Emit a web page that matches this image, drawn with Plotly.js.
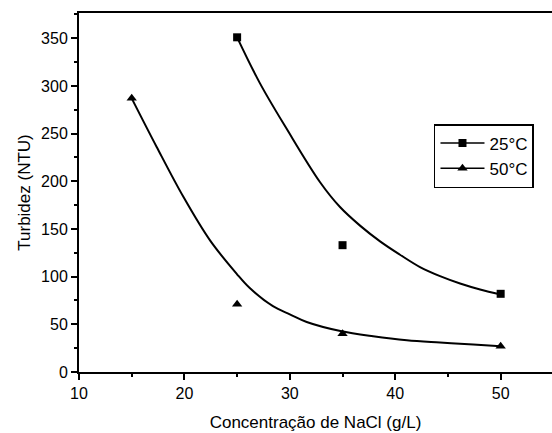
<!DOCTYPE html>
<html>
<head>
<meta charset="utf-8">
<script src="https://cdn.plot.ly/plotly-3.0.1.min.js"></script>
<style>html,body{margin:0;padding:0;background:#fff;}#chart{width:552px;height:433px;}</style>
</head>
<body>
<div id="chart"></div>
<script>
// measured points
const x25 = [25, 35, 50];
const y25 = [351, 133, 82];
const x50 = [15, 25, 35, 50];
const y50 = [287, 71, 40, 27];

// fitted curves
const fitX25 = [25, 27.17, 29.7, 32.87, 34.76, 36.66, 38.56, 40.45, 42.35, 44.25, 46.15, 48.05, 50];
const fitY25 = [351, 302.7, 255, 199, 173, 153.5, 137, 123, 110, 100.5, 92.8, 86.5, 81.3];
const fitX50 = [15, 17.37, 19.9, 22.43, 24.96, 26.2, 28.4, 30, 31.6, 34.8, 37.9, 41.1, 44.25, 47.4, 50];
const fitY50 = [287, 236, 183.7, 138, 103, 88, 69, 60.5, 52.5, 43, 37.5, 33.3, 30.9, 28.8, 27];

const legendNames = ['25°C', '50°C'];
const xTicks = [10, 20, 30, 40, 50];
const yTicks = [0, 50, 100, 150, 200, 250, 300, 350];

const FONT = 'Liberation Sans, Arial, sans-serif';
const traces = [
  {x: fitX25, y: fitY25, mode: 'lines', line: {color: '#000', width: 2, shape: 'spline'}, showlegend: false, hoverinfo: 'skip'},
  {x: fitX50, y: fitY50, mode: 'lines', line: {color: '#000', width: 2, shape: 'spline'}, showlegend: false, hoverinfo: 'skip'},
  {x: x25, y: y25, mode: 'markers', marker: {symbol: 'square', size: 8, color: '#000'}, showlegend: false},
  {x: x50, y: y50, mode: 'markers', marker: {symbol: 'triangle-up', size: 9, color: '#000'}, showlegend: false},
  {x: [null], y: [null], name: legendNames[0], mode: 'lines+markers', line: {color: '#000', width: 1.5}, marker: {symbol: 'square', size: 8, color: '#000'}},
  {x: [null], y: [null], name: legendNames[1], mode: 'lines+markers', line: {color: '#000', width: 1.5}, marker: {symbol: 'triangle-up', size: 9, color: '#000'}}
];

const layout = {
  width: 552, height: 433,
  margin: {l: 79, r: 0, t: 13, b: 61},
  paper_bgcolor: '#fff', plot_bgcolor: '#fff',
  font: {family: FONT, size: 16, color: '#000'},
  showlegend: true,
  legend: {x: 0.7505, y: 0.6906, xanchor: 'left', yanchor: 'top', bordercolor: '#000', borderwidth: 1.5, bgcolor: '#fff', font: {size: 17, family: FONT}, itemwidth: 44, tracegroupgap: 0},
  xaxis: {
    range: [10, 54.87], tickvals: xTicks, ticktext: xTicks.map(String),
    showgrid: false, zeroline: false, showline: true, linecolor: '#000', linewidth: 2, mirror: true,
    ticks: 'outside', ticklen: 6, tickwidth: 2, tickcolor: '#000',
    minor: {dtick: 5, ticks: 'outside', ticklen: 3, tickwidth: 2, tickcolor: '#000', showgrid: false},
    tickfont: {size: 16, family: FONT},
    title: {text: 'Concentração de NaCl (g/L)', font: {size: 17, family: FONT}, standoff: 15}
  },
  yaxis: {
    range: [0, 376.5], tickvals: yTicks, ticktext: yTicks.map(String),
    showgrid: false, zeroline: false, showline: true, linecolor: '#000', linewidth: 2, mirror: false,
    ticks: 'outside', ticklen: 6, tickwidth: 2, tickcolor: '#000',
    minor: {dtick: 25, ticks: 'outside', ticklen: 3, tickwidth: 2, tickcolor: '#000', showgrid: false},
    tickfont: {size: 16, family: FONT},
    title: {text: 'Turbidez (NTU)', font: {size: 17, family: FONT}, standoff: 6}
  }
};

Plotly.newPlot('chart', traces, layout, {displayModeBar: false, staticPlot: true});
</script>
</body>
</html>
